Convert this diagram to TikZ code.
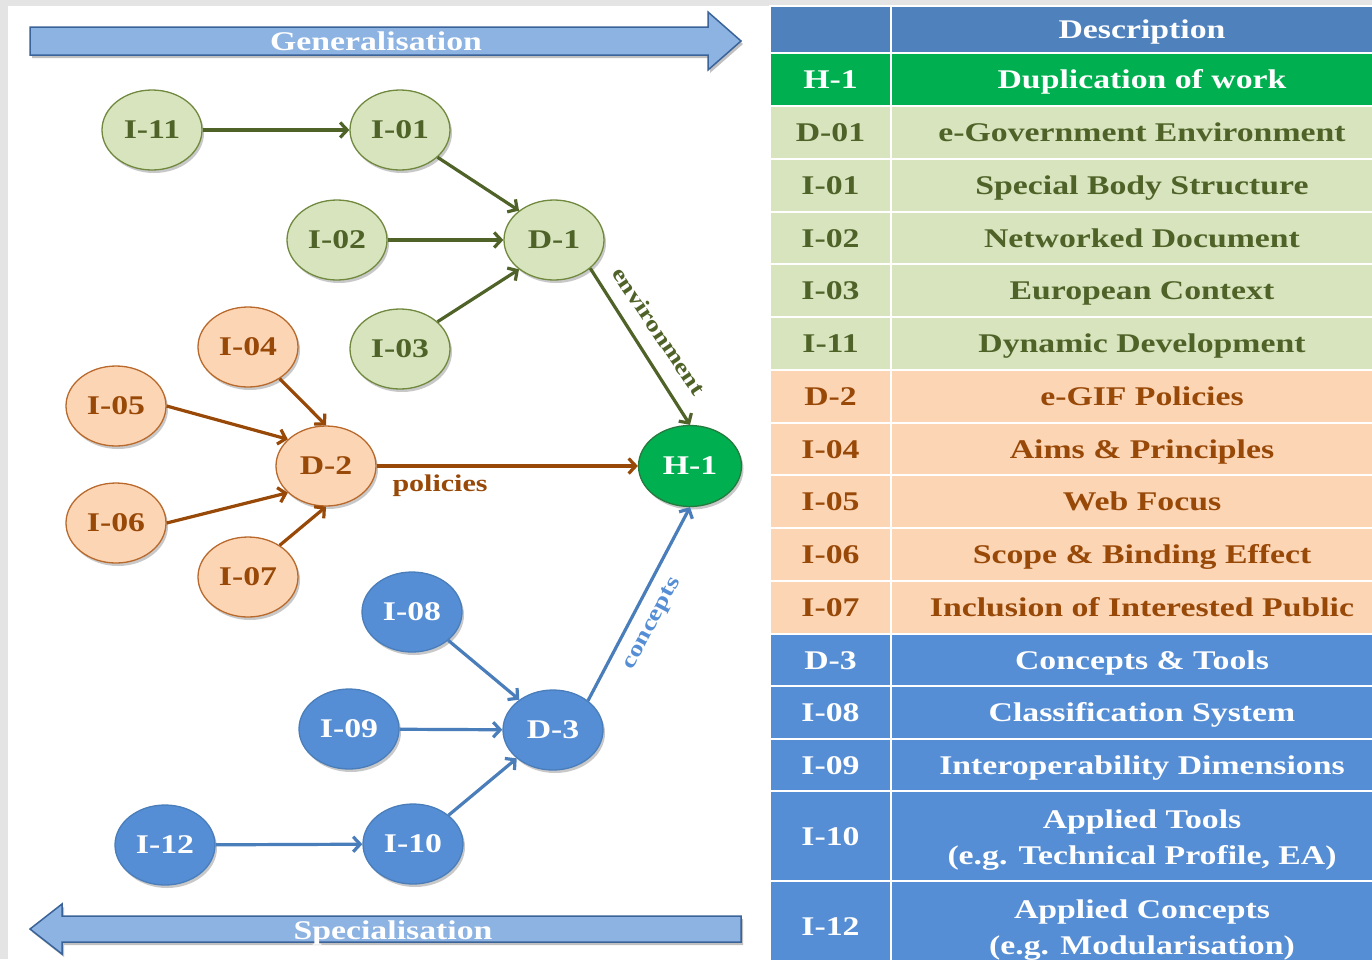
\documentclass[tikz,border=0pt]{standalone}
\usepackage{fontspec}
\newfontfamily\tfont[FakeStretch=1.25]{Liberation Serif}
\usetikzlibrary{shapes.geometric,arrows.meta,shadows}
\definecolor{bgray}{RGB}{228,228,228}
\definecolor{hdr}{HTML}{4F81BD}
\definecolor{hgreen}{HTML}{00B050}
\definecolor{hborder}{HTML}{257A3E}
\definecolor{lgreen}{HTML}{D7E4BD}
\definecolor{gtext}{HTML}{4F6228}
\definecolor{gborder}{HTML}{71893F}
\definecolor{peach}{HTML}{FCD5B5}
\definecolor{ptext}{HTML}{984807}
\definecolor{pborder}{HTML}{B9692B}
\definecolor{bfill}{HTML}{558ED5}
\definecolor{bline}{HTML}{4A7EBB}
\definecolor{arrfill}{HTML}{8DB3E2}
\definecolor{arrdraw}{HTML}{3A6399}
\newcommand\mytabfont{\tfont\bfseries\fontsize{27}{36}\selectfont}
\newcommand\mylblfont{\tfont\bfseries\fontsize{22}{24}\selectfont}
\begin{document}
\begin{tikzpicture}[x=1pt,y=-1pt,
  shad/.style={drop shadow={shadow xshift=2pt,shadow yshift=-3pt,opacity=.3,fill=black!70}},
  ell/.style={ellipse,minimum width=100pt,minimum height=80pt,inner sep=0pt,line width=1.3pt,font=\mytabfont,shad},
  gnode/.style={ell,fill=lgreen,draw=gborder,text=gtext},
  pnode/.style={ell,fill=peach,draw=pborder,text=ptext},
  bnode/.style={ell,fill=bfill,draw=bline,text=white},
  hnode/.style={ell,minimum width=103pt,minimum height=81pt,fill=hgreen,draw=hborder,text=white},
  edgebase/.style={line width=3.2pt,-{Straight Barb[length=7pt,width=15pt]}},
  gedge/.style={edgebase,draw=gtext},
  pedge/.style={edgebase,draw=ptext},
  bedge/.style={edgebase,draw=bline},
  elabel/.style={font=\mylblfont,inner sep=0pt},
  cellL/.style={rectangle,draw=white,line width=2.5pt,minimum width=121pt,inner sep=0pt},
  cellR/.style={rectangle,draw=white,line width=2.5pt,minimum width=502pt,inner sep=0pt},
  ctext/.style={inner sep=0pt,font=\mytabfont,align=center},
  one/.style={text height=20pt,text depth=2pt},
  two/.style={yshift=-4pt},
  bigarrow/.style={fill=arrfill,draw=arrdraw,line width=1.5pt,line join=miter,drop shadow={shadow xshift=2pt,shadow yshift=-3pt,opacity=.35,fill=black!70}},
  arrtext/.style={font=\mytabfont,text=white,inner sep=0pt,text height=20pt,text depth=2pt}
]
\useasboundingbox (0,0) rectangle (1372,959);
\fill[bgray] (0,0) rectangle (1372,959);
\fill[white] (8,6) rectangle (1372,959);

% big arrows
\draw[bigarrow] (30,27) -- (708,27) -- (708,12) -- (741,41) -- (708,70) -- (708,55) -- (30,55) -- cycle;
\node[arrtext] (gen) at (376,41) {Generalisation};
\draw[bigarrow] (741,916) -- (62,916) -- (62,904) -- (30,929) -- (62,954) -- (62,942) -- (741,942) -- cycle;
\node[arrtext] (spec) at (393,930) {Specialisation};

% nodes
\node[gnode] (I11) at (152,130) {I-11};
\node[gnode] (I01) at (400,130) {I-01};
\node[gnode] (I02) at (337,240) {I-02};
\node[gnode] (D1) at (554,240) {D-1};
\node[gnode] (I03) at (400,349) {I-03};
\node[pnode] (I04) at (248,347) {I-04};
\node[pnode] (I05) at (116,406) {I-05};
\node[pnode] (D2) at (326,466) {D-2};
\node[pnode] (I06) at (116,523) {I-06};
\node[pnode] (I07) at (248,577) {I-07};
\node[hnode] (H1) at (690,466) {H-1};
\node[bnode] (I08) at (412,612) {I-08};
\node[bnode] (I09) at (349,729) {I-09};
\node[bnode] (D3) at (553,730) {D-3};
\node[bnode] (I12) at (165,845) {I-12};
\node[bnode] (I10) at (413,844) {I-10};

% edges
\draw[gedge] (I11) -- (I01);
\draw[gedge] (I01.-36) -- (D1.140);
\draw[gedge] (I02) -- (D1);
\draw[gedge] (I03.36) -- (D1.-140);
\draw[gedge] (D1.-38) -- (H1.north);
\draw[pedge] (I04.-45) -- (D2.north);
\draw[pedge] (I05.east) -- (D2.145);
\draw[pedge] (I06.east) -- (D2.-145);
\draw[pedge] (I07.45) -- (D2.south);
\draw[pedge] (D2) -- (H1);
\draw[bedge] (I08.-38) -- (D3.138);
\draw[bedge] (I09) -- (D3);
\draw[bedge] (I10.39) -- (D3.-142);
\draw[bedge] (I12) -- (I10);
\draw[bedge] (D3.40) -- (H1.south);

% edge labels
\node[elabel,rotate=-56,text=gtext] (lenv) at (659,331) {environment};
\node[elabel,text=ptext,font=\tfont\bfseries\fontsize{24}{26}\selectfont] (lpol) at (440,486) {policies};
\node[elabel,rotate=62,text=bfill] (lcon) at (653,624) {concepts};

% table
\foreach \n/\nm/\ds/\yc/\h/\fc/\tc/\st in {
  hd/{}/Description/29.5/47/hdr/white/one,
  h1/H-1/Duplication of work/79.5/53/hgreen/white/one,
  d01/D-01/e-Government Environment/132.5/53/lgreen/gtext/one,
  i01/I-01/Special Body Structure/185.5/53/lgreen/gtext/one,
  i02/I-02/Networked Document/238/52/lgreen/gtext/one,
  i03/I-03/European Context/290.5/53/lgreen/gtext/one,
  i11/I-11/Dynamic Development/343.5/53/lgreen/gtext/one,
  d2/D-2/e-GIF Policies/396.5/53/peach/ptext/one,
  i04/I-04/Aims \& Principles/449/52/peach/ptext/one,
  i05/I-05/Web Focus/501.5/53/peach/ptext/one,
  i06/I-06/Scope \& Binding Effect/554.5/53/peach/ptext/one,
  i07/I-07/Inclusion of Interested Public/607.5/53/peach/ptext/one,
  d3/D-3/Concepts \& Tools/660/52/bfill/white/one,
  i08/I-08/Classification System/712.5/53/bfill/white/one,
  i09/I-09/Interoperability Dimensions/765/52/bfill/white/one,
  i10/I-10/{Applied Tools\\(e.g. Technical Profile, EA)}/836/90/bfill/white/two,
  i12/I-12/{Applied Concepts\\(e.g. Modularisation)}/926/90/bfill/white/two}{
  \node[cellL,fill=\fc,minimum height=\h pt] (L\n) at (830.5,\yc) {};
  \node[cellR,fill=\fc,minimum height=\h pt] (R\n) at (1142,\yc) {};
  \node[ctext,one,text=\tc] (LT\n) at (L\n.center) {\nm};
  \node[ctext,\st,text=\tc] (RT\n) at (R\n.center) {\ds};
}
\end{tikzpicture}
\end{document}
